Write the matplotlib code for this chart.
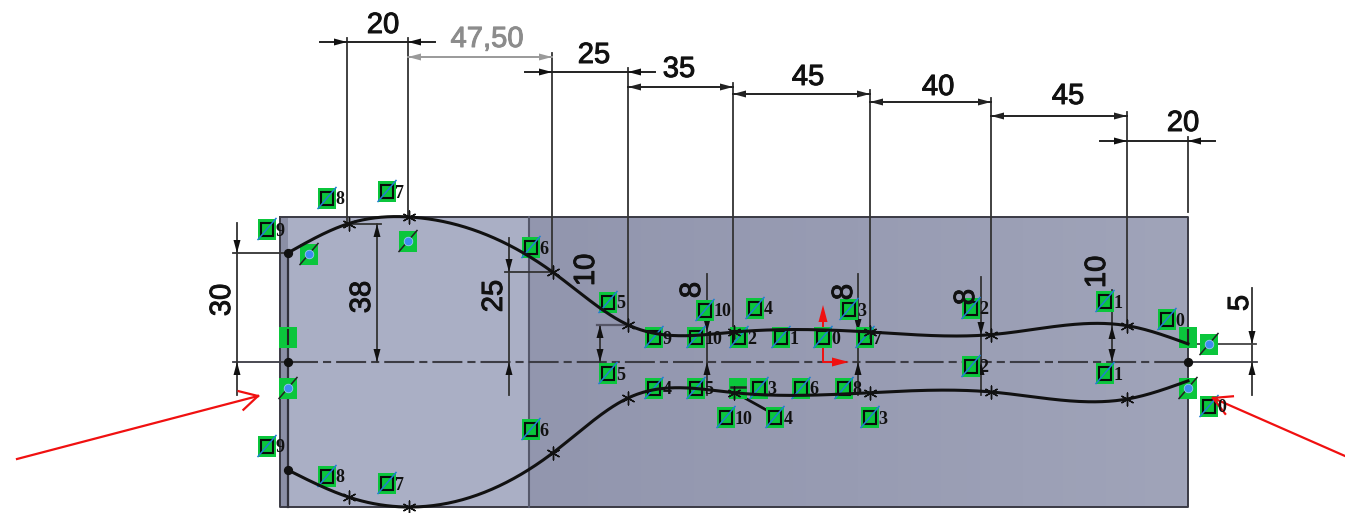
import numpy as np
import matplotlib
matplotlib.use('Agg')
import matplotlib.pyplot as plt
import matplotlib.patheffects as pe
from matplotlib.patches import Rectangle, Polygon

# profile of the sketch, in mm along the centre line
stations = [0, 20, 40, 87.5, 112.5, 147.5, 192.5, 232.5, 277.5, 297.5]
upper_half = [29.5, 37.4, 39.2, 24.3, 10, 8.1, 8.1, 7.4, 9.8, 4.9]
lower_half = [29.2, 36.5, 39.2, 24.6, 9.7, 8.3, 8.3, 8.1, 10, 5.1]

# horizontal dimensions: label, x from, x to, y, style
h_dims = [('20', 347, 408, 42, 'out'), ('47,50', 408, 552, 57, 'ref'), ('25', 552, 628, 72, 'out'),
          ('35', 628, 733, 87, 'in'), ('45', 733, 870, 94, 'in'), ('40', 870, 991, 102, 'in'),
          ('45', 991, 1127, 116, 'in'), ('20', 1127, 1188, 141, 'out')]
h_label_pos = [(383, 25), (487, 39), (594, 55), (679, 69), (808, 77), (938, 87), (1068, 96), (1183, 123)]
ext_lines = [(347, 42, 224), (408, 42, 217), (552, 57, 272), (628, 72, 325), (733, 87, 332),
             (870, 94, 332), (991, 102, 335), (1127, 116, 326), (1188, 141, 212)]

# vertical dimensions: label, x, y from, y to, style, label position, overshoot above
v_dims = [('30', 237, 253, 362, 'out', (222, 300), 30), ('38', 377, 224, 362, 'in', (362, 297), 0),
          ('25', 509, 272, 362, 'out', (494, 296), 34), ('10', 600, 325, 362, 'in', (586, 270), 0),
          ('8', 707, 332, 362, 'out', (692, 290), 58), ('8', 858, 332, 362, 'out', (844, 292), 58),
          ('8', 981, 335, 362, 'out', (966, 297), 58), ('10', 1112, 326, 362, 'in', (1097, 272), 36),
          ('5', 1252, 344, 362, 'out', (1240, 303), 56)]

# green relation badges with their number
badges = [(327, 198, '8'), (387, 191, '7'), (267, 229, '9'), (531, 247, '6'), (608, 302, '5'), (654, 337, '9'),
          (696, 337, '10'), (739, 337, '2'), (781, 337, '1'), (823, 337, '0'), (865, 337, '7'), (705, 310, '10'),
          (755, 308, '4'), (849, 309, '3'), (971, 308, '2'), (971, 366, '2'), (1105, 301, '1'), (1105, 373, '1'),
          (1167, 319, '0'), (1209, 406, '0'), (608, 373, '5'), (654, 388, '4'), (696, 388, '5'), (759, 388, '3'),
          (801, 388, '6'), (844, 388, '8'), (726, 417, '10'), (775, 417, '4'), (870, 417, '3'), (531, 429, '6'),
          (267, 446, '9'), (327, 476, '8'), (387, 483, '7')]
dot_badges = [(309, 254), (408, 241), (288, 388), (1209, 344), (1188, 388)]
vert_badges = [(288, 337), (1188, 337)]
horiz_badges = [(738, 388)]

FONT = ['Liberation Sans', 'DejaVu Sans']
heavy = [pe.withStroke(linewidth=0.7, foreground='#111111')]
heavy_grey = [pe.withStroke(linewidth=0.7, foreground='#8c8c8c')]


def spline(x, y, n=60):
    # natural cubic spline through the sketch points
    x = np.array(x, float)
    y = np.array(y, float)
    h = np.diff(x)
    m = np.zeros((len(x), len(x)))
    r = np.zeros(len(x))
    m[0, 0] = m[-1, -1] = 1
    for i in range(1, len(x) - 1):
        m[i, i - 1:i + 2] = h[i - 1], 2 * (h[i - 1] + h[i]), h[i]
        r[i] = 6 * ((y[i + 1] - y[i]) / h[i] - (y[i] - y[i - 1]) / h[i - 1])
    s = np.linalg.solve(m, r)
    xs, ys = [], []
    for i in range(len(h)):
        t = np.linspace(x[i], x[i + 1], n)
        a = (x[i + 1] - t) / h[i]
        b = (t - x[i]) / h[i]
        ys.append(a * y[i] + b * y[i + 1] + ((a**3 - a) * s[i] + (b**3 - b) * s[i + 1]) * h[i]**2 / 6)
        xs.append(t)
    return np.concatenate(xs), np.concatenate(ys)


fig = plt.figure(figsize=(13.45, 5.13), dpi=100)
ov = fig.add_axes([0, 0, 1, 1])
ov.axis('off')

# second axes on the same canvas, in mm with the origin on the centre line
ax = fig.add_axes([0, 0, 1, 1], zorder=2)
ax.set_xlim(-288 / 3.025, (1345 - 288) / 3.025)
ax.set_ylim((362 - 513) / 3.7, 362 / 3.7)
ax.axis('off')
ax.patch.set_alpha(0)

# plate
ov.imshow(np.linspace(0, 1, 200).reshape(1, -1), extent=(529, 1188, 507, 217), aspect='auto', zorder=1,
          cmap=matplotlib.colors.LinearSegmentedColormap.from_list('plate', ['#9296ae', '#989cb3', '#a0a4b9']))
ov.set_xlim(0, 1345)
ov.set_ylim(513, 0)
ov.add_patch(Rectangle((280, 217), 249, 290, fc='#aaafc5', ec='none', zorder=1))
ov.add_patch(Rectangle((280, 217), 8, 290, fc='#8b8fa6', ec='none', zorder=1))
ov.plot([280, 1188, 1188, 280, 280], [217, 217, 507, 507, 217], color='#3a3a44', lw=1.4, zorder=2)
ov.plot([529, 529], [217, 507], color='#55586a', lw=1.5, zorder=2)
ov.plot([288, 288], [253, 507], color='#30303a', lw=1.6, zorder=3)

# centre line
ov.plot([288, 1188], [362, 362], color='#3c3c44', lw=1.5, dashes=(14.4, 2.4, 3.9, 2.4), zorder=3)
ov.plot([233, 288], [362, 362], color='#3c3c44', lw=1.3, zorder=3)
ov.plot([1188, 1257], [362, 362], color='#3c3c44', lw=1.3, zorder=3)

# profile
for half, sign in ((upper_half, 1), (lower_half, -1)):
    xs, ys = spline(stations, half)
    ax.plot(xs, sign * ys, color='#111111', lw=2.2, zorder=4)
    ax.scatter(stations[1:-1], sign * np.array(half[1:-1]), marker=(6, 2, 0), s=85, color='#111111', lw=1.0, zorder=5)
ax.scatter([0, 0, 0, 297.5], [upper_half[0], 0, -lower_half[0], 0], s=32, color='#111111', zorder=5)


def arrow(x, y, dx, dy, color='#111111', length=13, half=3.5):
    # small solid head with its tip on (x, y), pointing along (dx, dy)
    pts = [(x, y), (x - dx * length - dy * half, y - dy * length - dx * half),
           (x - dx * length + dy * half, y - dy * length + dx * half)]
    ov.add_patch(Polygon(pts, closed=True, fc=color, ec='none', zorder=6))


for (label, x0, x1, y, style), (lx, ly) in zip(h_dims, h_label_pos):
    color = '#9a9a9a' if style == 'ref' else '#222222'
    if style == 'out':
        ov.plot([x0 - 27, x1 + 27], [y, y], color=color, lw=1.4, zorder=5)
        arrow(x0, y, 1, 0)
        arrow(x1, y, -1, 0)
    else:
        ov.plot([x0, x1], [y, y], color=color, lw=1.4, zorder=5)
        arrow(x0, y, -1, 0, color)
        arrow(x1, y, 1, 0, color)
    ov.text(lx, ly, label, ha='center', va='center', fontsize=21, color='#8c8c8c' if style == 'ref' else '#111111',
            family=FONT, zorder=9, path_effects=heavy_grey if style == 'ref' else heavy)

for x, y0, y1 in ext_lines:
    ov.plot([x, x], [y0 - 4, y1], color='#333333', lw=1.3, zorder=3)

for label, x, y0, y1, style, (lx, ly), over in v_dims:
    if style == 'out':
        ov.plot([x, x], [y0 - over, y1 + 33], color='#333333', lw=1.3, zorder=5)
        arrow(x, y0, 0, 1)
        arrow(x, y1, 0, -1)
    else:
        ov.plot([x, x], [y0 - over, y1], color='#333333', lw=1.3, zorder=5)
        arrow(x, y0, 0, -1)
        arrow(x, y1, 0, 1)
    ov.text(lx, ly, label, ha='center', va='center', rotation=90, fontsize=21, color='#111111', family=FONT,
            zorder=9, path_effects=heavy)

# witness lines of the vertical dimensions
ov.plot([233, 288], [253, 253], color='#333333', lw=1.3, zorder=5)
ov.plot([347, 381], [224, 224], color='#333333', lw=1.3, zorder=5)
ov.plot([505, 552], [272, 272], color='#333333', lw=1.3, zorder=5)
ov.plot([597, 628], [325, 325], color='#555566', lw=1.6, zorder=5)
ov.plot([1188, 1256], [344, 344], color='#444444', lw=1.3, zorder=5)


def badge(x, y, w=18, h=21):
    ov.add_patch(Rectangle((x - w / 2, y - h / 2), w, h, fc='#0bc63c', ec='none', zorder=7))


for x, y, num in badges:
    badge(x, y)
    ov.add_patch(Rectangle((x - 6, y - 6.5), 12, 13, fc='none', ec='#0a0a0a', lw=1.5, zorder=8))
    ov.plot([x - 9, x + 9], [y + 10.5, y - 10.5], color='#1f7fd0', lw=1.1, zorder=8)
    ov.text(x + 8.5, y + 2, num, ha='left', va='center', fontsize=13, fontweight='bold', color='#111111',
            family=['Liberation Serif', 'DejaVu Serif'], zorder=9)

for x, y in dot_badges:
    badge(x, y)
    ov.plot([x - 9, x + 9], [y + 10.5, y - 10.5], color='#222222', lw=1.1, zorder=8)
    ov.scatter([x], [y], s=38, color='#3f8cf0', edgecolors='#9cc4f8', lw=0.6, zorder=9)

for x, y in vert_badges:
    badge(x, y)
    ov.plot([x, x], [y - 7, y + 7], color='#222222', lw=1.5, zorder=8)

for x, y in horiz_badges:
    badge(x, y)
    ov.plot([x - 7, x + 7], [y - 1, y - 1], color='#222222', lw=1.8, zorder=8)

# leader from the horizontal relation
ov.plot([743, 770], [397, 412], color='#111111', lw=2, zorder=5)

# origin arrows
ov.plot([823, 823, 838], [321, 362, 362], color='#f01010', lw=1.4, zorder=6)
arrow(823, 305, 0, -1, '#f01010', length=17, half=4.5)
arrow(849, 362, 1, 0, '#f01010', length=17, half=4.5)

# red call-out arrows
for (x0, y0), (x1, y1) in (((17, 459), (258, 396)), ((1345, 456), (1213, 398))):
    ov.plot([x0, x1], [y0, y1], color='#f01010', lw=1.6, zorder=8)
    ang = np.arctan2(y0 - y1, x0 - x1)
    for d in (-0.5, 0.5):
        ov.plot([x1, x1 + 20 * np.cos(ang + d)], [y1, y1 + 20 * np.sin(ang + d)], color='#f01010', lw=1.6, zorder=8)

fig.savefig('out.png', dpi=100)
